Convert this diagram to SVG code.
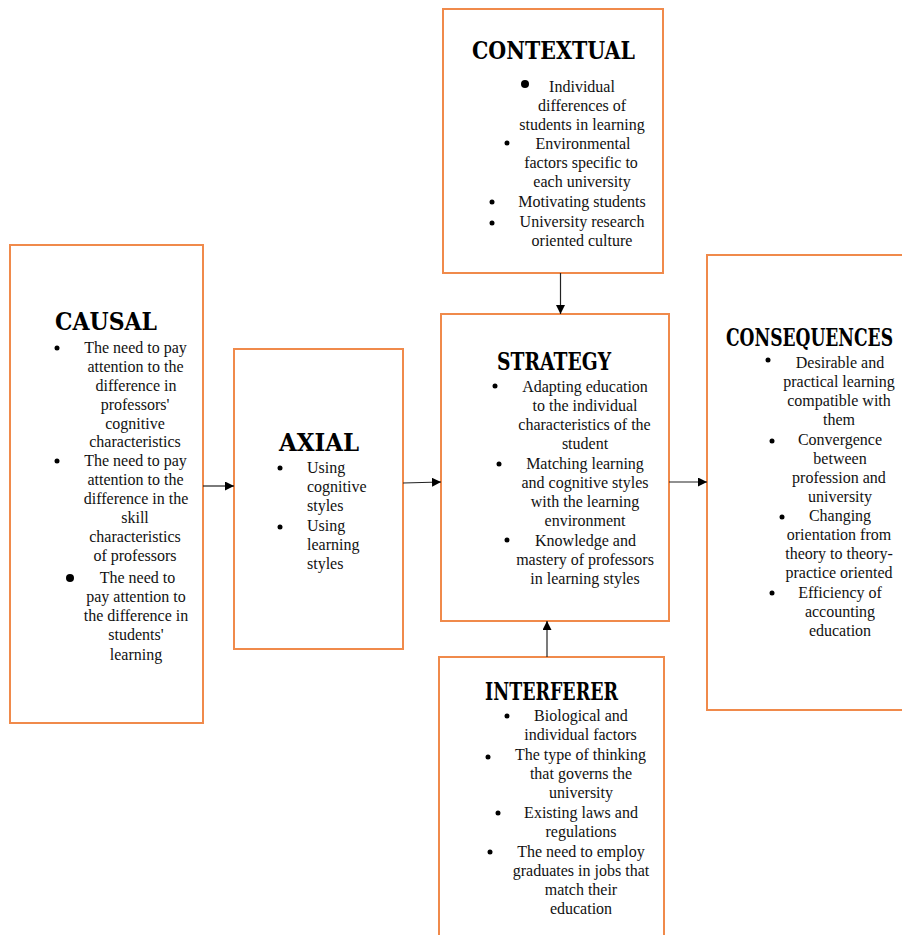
<svg xmlns="http://www.w3.org/2000/svg" width="902" height="935" viewBox="0 0 902 935">
<defs>
<style>
.box{fill:#fff;stroke:#F08A4B;stroke-width:2}
.t{font-family:"DejaVu Serif","Liberation Serif",serif;font-weight:bold;font-size:24px;fill:#000}
.b{font-family:"Liberation Serif","Times New Roman",serif;font-size:16px;fill:#111;text-anchor:middle}
.l{font-family:"Liberation Serif","Times New Roman",serif;font-size:16px;fill:#111}
.c{stroke:#222;stroke-width:1.2;fill:none}
</style>
<marker id="ah" viewBox="0 0 10 10" refX="10" refY="5" markerWidth="9" markerHeight="9" markerUnits="userSpaceOnUse" orient="auto">
<path d="M0,0 L10,5 L0,10 z" fill="#000"/>
</marker>
</defs>
<rect width="902" height="935" fill="#fff"/>

<g id="contextual">
<rect class="box" x="443" y="9" width="220" height="264"/>
<text class="t" x="472" y="59" textLength="163" lengthAdjust="spacingAndGlyphs">CONTEXTUAL</text>
<circle cx="525" cy="84" r="4"/>
<text class="b" x="582" y="92">Individual</text>
<text class="b" x="582" y="111">differences of</text>
<text class="b" x="582" y="130">students in learning</text>
<circle cx="507" cy="143" r="2.5"/>
<text class="b" x="583" y="149">Environmental</text>
<text class="b" x="581" y="168">factors specific to</text>
<text class="b" x="582" y="187">each university</text>
<circle cx="492" cy="202" r="2.5"/>
<text class="b" x="582" y="207">Motivating students</text>
<circle cx="492" cy="223" r="2.5"/>
<text class="b" x="582" y="227">University research</text>
<text class="b" x="582" y="246">oriented culture</text>
</g>

<g id="causal">
<rect class="box" x="10" y="245" width="193" height="478"/>
<text class="t" x="55" y="330" textLength="102" lengthAdjust="spacingAndGlyphs">CAUSAL</text>
<circle cx="57" cy="348" r="2.5"/>
<text class="b" x="135.5" y="353">The need to pay</text>
<text class="b" x="135.5" y="372">attention to the</text>
<text class="b" x="136" y="391">difference in</text>
<text class="b" x="135" y="410">professors'</text>
<text class="b" x="135" y="429">cognitive</text>
<text class="b" x="135" y="447">characteristics</text>
<circle cx="57" cy="461" r="2.5"/>
<text class="b" x="135.5" y="466">The need to pay</text>
<text class="b" x="135.5" y="485">attention to the</text>
<text class="b" x="136" y="504">difference in the</text>
<text class="b" x="135" y="523">skill</text>
<text class="b" x="135" y="542">characteristics</text>
<text class="b" x="135" y="561">of professors</text>
<circle cx="70" cy="578" r="4"/>
<text class="b" x="137.5" y="583">The need to</text>
<text class="b" x="136" y="602">pay attention to</text>
<text class="b" x="136" y="621">the difference in</text>
<text class="b" x="136" y="640">students'</text>
<text class="b" x="136" y="660">learning</text>
</g>

<g id="axial">
<rect class="box" x="234" y="349" width="169" height="300"/>
<text class="t" x="279" y="451" textLength="80" lengthAdjust="spacingAndGlyphs">AXIAL</text>
<circle cx="280" cy="468" r="2.5"/>
<text class="l" x="307" y="473">Using</text>
<text class="l" x="307" y="492">cognitive</text>
<text class="l" x="307" y="511">styles</text>
<circle cx="280" cy="527" r="2.5"/>
<text class="l" x="307" y="531">Using</text>
<text class="l" x="307" y="550">learning</text>
<text class="l" x="307" y="569">styles</text>
</g>

<g id="strategy">
<rect class="box" x="441" y="314" width="228" height="307"/>
<text class="t" x="497" y="370" textLength="114" lengthAdjust="spacingAndGlyphs">STRATEGY</text>
<circle cx="495" cy="386" r="2.5"/>
<text class="b" x="585" y="392">Adapting education</text>
<text class="b" x="585" y="411">to the individual</text>
<text class="b" x="584.5" y="430">characteristics of the</text>
<text class="b" x="585" y="449">student</text>
<circle cx="499" cy="464" r="2.5"/>
<text class="b" x="585" y="469">Matching learning</text>
<text class="b" x="585" y="488">and cognitive styles</text>
<text class="b" x="585" y="507">with the learning</text>
<text class="b" x="585" y="526">environment</text>
<circle cx="507" cy="540" r="2.5"/>
<text class="b" x="585.5" y="546">Knowledge and</text>
<text class="b" x="585" y="565">mastery of professors</text>
<text class="b" x="585" y="584">in learning styles</text>
</g>

<g id="consequences">
<rect class="box" x="707" y="255" width="200" height="455"/>
<text class="t" x="726" y="346" textLength="167" lengthAdjust="spacingAndGlyphs">CONSEQUENCES</text>
<circle cx="768" cy="360" r="2.5"/>
<text class="b" x="840" y="368">Desirable and</text>
<text class="b" x="839" y="387">practical learning</text>
<text class="b" x="839" y="406">compatible with</text>
<text class="b" x="839" y="425">them</text>
<circle cx="772" cy="441" r="2.5"/>
<text class="b" x="840" y="445">Convergence</text>
<text class="b" x="840" y="464">between</text>
<text class="b" x="839" y="483">profession and</text>
<text class="b" x="840" y="502">university</text>
<circle cx="782" cy="517" r="2.5"/>
<text class="b" x="840" y="521">Changing</text>
<text class="b" x="839" y="540">orientation from</text>
<text class="b" x="839" y="559">theory to theory-</text>
<text class="b" x="839" y="578">practice oriented</text>
<circle cx="772" cy="593" r="2.5"/>
<text class="b" x="840" y="598">Efficiency of</text>
<text class="b" x="840" y="617">accounting</text>
<text class="b" x="840" y="636">education</text>
</g>

<g id="interferer">
<rect class="box" x="439" y="657" width="225" height="290"/>
<text class="t" x="485" y="700" textLength="133" lengthAdjust="spacingAndGlyphs">INTERFERER</text>
<circle cx="507" cy="716" r="2.5"/>
<text class="b" x="581" y="721">Biological and</text>
<text class="b" x="580.5" y="740">individual factors</text>
<circle cx="488" cy="757" r="2.5"/>
<text class="b" x="580.5" y="760">The type of thinking</text>
<text class="b" x="581" y="779">that governs the</text>
<text class="b" x="581" y="798">university</text>
<circle cx="498" cy="813" r="2.5"/>
<text class="b" x="581" y="818">Existing laws and</text>
<text class="b" x="581" y="837">regulations</text>
<circle cx="490" cy="852" r="2.5"/>
<text class="b" x="581" y="857">The need to employ</text>
<text class="b" x="581" y="876">graduates in jobs that</text>
<text class="b" x="581" y="895">match their</text>
<text class="b" x="581" y="914">education</text>
</g>

<g id="connectors">
<line class="c" x1="203" y1="486" x2="234" y2="486" marker-end="url(#ah)"/>
<line class="c" x1="403" y1="483" x2="441" y2="482" marker-end="url(#ah)"/>
<line class="c" x1="560.5" y1="273" x2="560.5" y2="314" marker-end="url(#ah)"/>
<line class="c" x1="547" y1="657" x2="547" y2="621" marker-end="url(#ah)"/>
<line class="c" x1="669" y1="482" x2="707" y2="482" marker-end="url(#ah)"/>
</g>
</svg>
